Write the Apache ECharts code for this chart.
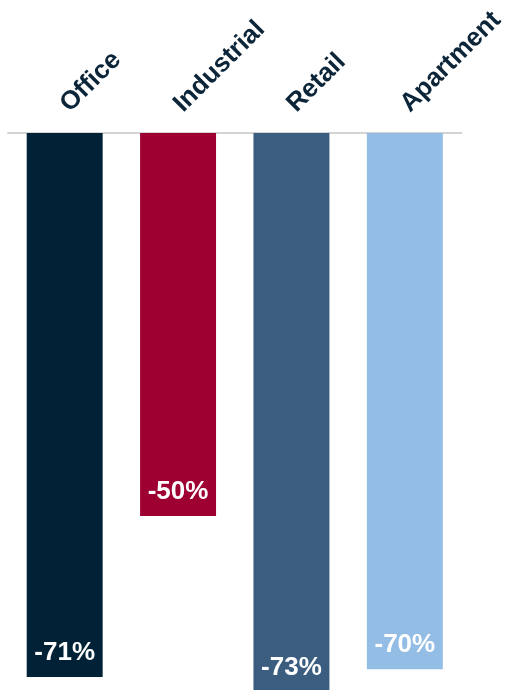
<!DOCTYPE html>
<html>
<head>
<meta charset="utf-8">
<script src="https://cdn.jsdelivr.net/npm/echarts@6/dist/echarts.min.js"></script>
<style>
  html, body { margin: 0; padding: 0; background: #fff; }
  #chart-container { width: 508px; height: 690px; }
</style>
</head>
<body>
<div id="chart-container"></div>
<script>
var dom = document.getElementById("chart-container");
var myChart = echarts.init(dom, null, { renderer: "canvas" });

var categories = ["Office", "Industrial", "Retail", "Apartment"];
var values = [-71, -50, -73, -70];
var colors = ["#012236", "#9e0031", "#3b5d80", "#93bde4"];

var option = {
  animation: false,
  grid: {
    left: 8,
    top: 133,
    width: 454,
    height: 557
  },
  xAxis: {
    type: "category",
    position: "top",
    data: categories,
    axisLine: { show: true, lineStyle: { color: "#d4d4d4", width: 2 } },
    axisTick: { show: false },
    axisLabel: {
      rotate: 45,
      margin: 25,
      color: "#0d2538",
      fontFamily: "Liberation Sans",
      fontWeight: "bold",
      fontSize: 26
    }
  },
  yAxis: {
    type: "value",
    min: -72.7,
    max: 0,
    show: false,
    splitLine: { show: false }
  },
  series: [
    {
      type: "bar",
      clip: false,
      barWidth: "67%",
      data: values.map(function (v, i) {
        return { value: v, itemStyle: { color: colors[i] } };
      }),
      label: {
        show: true,
        position: "insideBottom",
        distance: 11,
        color: "#fff",
        fontFamily: "Liberation Sans",
        fontWeight: "bold",
        fontSize: 26,
        formatter: function (p) { return p.value + "%"; }
      }
    }
  ]
};

myChart.setOption(option);
</script>
</body>
</html>
